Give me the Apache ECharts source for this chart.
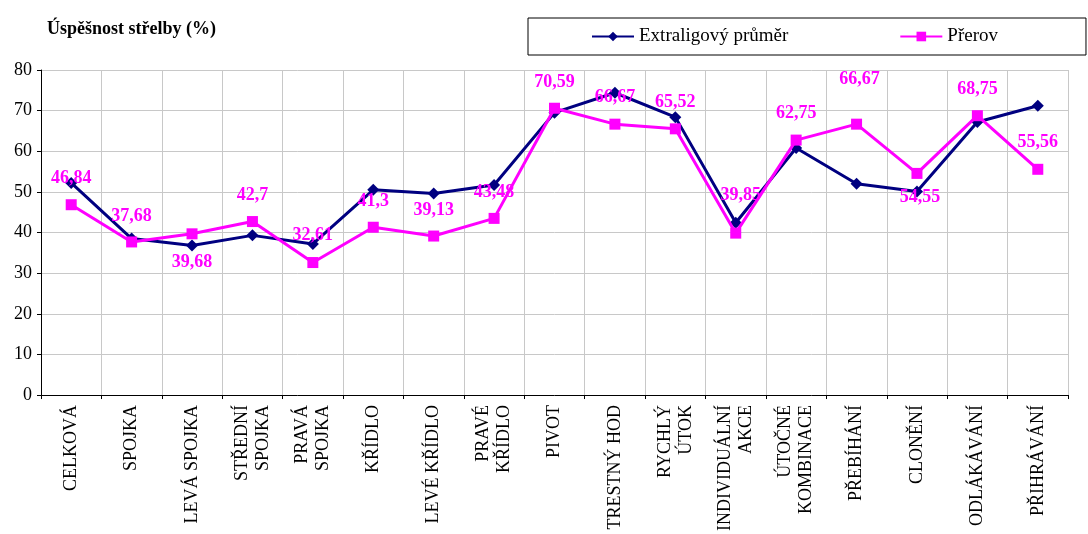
<!DOCTYPE html>
<html>
<head>
<meta charset="utf-8">
<script src="https://cdn.jsdelivr.net/npm/echarts@6/dist/echarts.min.js"></script>
<style>
html,body{margin:0;padding:0;background:#fff;}
#chart{width:1088px;height:534px;}
</style>
</head>
<body>
<div id="chart"></div>
<script>
const categories = ['CELKOVÁ','SPOJKA','LEVÁ SPOJKA','STŘEDNÍ\nSPOJKA','PRAVÁ\nSPOJKA','KŘÍDLO','LEVÉ KŘÍDLO','PRAVÉ\nKŘÍDLO','PIVOT','TRESTNÝ HOD','RYCHLÝ\nÚTOK','INDIVIDUÁLNÍ\nAKCE','ÚTOČNÉ\nKOMBINACE','PŘEBÍHÁNÍ','CLONĚNÍ','ODLÁKÁVÁNÍ','PŘIHRÁVÁNÍ'];
const extraligaName = 'Extraligový průměr';
const extraliga = [52.2, 38.5, 36.8, 39.3, 37.2, 50.5, 49.6, 51.7, 69.5, 74.4, 68.4, 42.4, 60.8, 52.0, 50.1, 67.2, 71.2];
const prerovName = 'Přerov';
const prerov = [46.84, 37.68, 39.68, 42.7, 32.61, 41.3, 39.13, 43.48, 70.59, 66.67, 65.52, 39.85, 62.75, 66.67, 54.55, 68.75, 55.56];
const yTicks = {min: 0, max: 80, interval: 10};
const titleText = 'Úspěšnost střelby (%)';

// label placement (style, not data)
const labelDy = [-26,-26,29,-26,-27,-26,-26,-26,-26,-27,-26,-38,-27,-45,24,-26,-27];
const labelDx = [0,0,0,0,0,0,0,0,0,0,0,5,0,3,3,0,0];

const FONT = '"Liberation Serif", "Times New Roman", serif';
const chart = echarts.init(document.getElementById('chart'));
chart.setOption({
  animation: false,
  backgroundColor: '#fff',
  textStyle: {fontFamily: FONT},
  title: {
    text: titleText, left: 42, top: 15,
    textStyle: {fontFamily: FONT, fontWeight: 'bold', fontSize: 18, color: '#000'}
  },
  legend: {
    left: 528, top: 18,
    padding: [9, 88, 9, 63],
    borderColor: '#000', borderWidth: 1,
    itemGap: 111, itemWidth: 42, itemHeight: 12,
    textStyle: {fontFamily: FONT, fontSize: 19, color: '#000'},
    data: [extraligaName, prerovName]
  },
  grid: {left: 41, right: 20, top: 70, bottom: 138, containLabel: false},
  xAxis: {
    type: 'category', data: categories, boundaryGap: true,
    axisLine: {show: true, lineStyle: {color: '#000', width: 1}},
    axisTick: {show: true, length: 4, lineStyle: {color: '#000'}},
    splitLine: {show: true, lineStyle: {color: '#c8c8c8', width: 1}},
    axisLabel: {rotate: 90, interval: 0, margin: 10, fontFamily: FONT, fontSize: 18, color: '#000', lineHeight: 21}
  },
  yAxis: {
    type: 'value', min: yTicks.min, max: yTicks.max, interval: yTicks.interval,
    axisLine: {show: true, lineStyle: {color: '#000', width: 1}},
    axisTick: {show: true, length: 4, lineStyle: {color: '#000'}},
    splitLine: {show: true, lineStyle: {color: '#c8c8c8', width: 1}},
    axisLabel: {margin: 9, fontFamily: FONT, fontSize: 18, color: '#000'}
  },
  series: [
    {
      name: extraligaName, type: 'line', data: extraliga,
      symbol: 'diamond', symbolSize: 12,
      lineStyle: {color: '#000080', width: 3},
      itemStyle: {color: '#000080'},
      z: 2
    },
    {
      name: prerovName, type: 'line',
      data: prerov.map((v, i) => ({
        value: v,
        label: {offset: [labelDx[i], labelDy[i]]}
      })),
      symbol: 'rect', symbolSize: 11,
      lineStyle: {color: '#ff00ff', width: 3},
      itemStyle: {color: '#ff00ff'},
      label: {
        show: true, position: 'inside',
        fontFamily: FONT, fontWeight: 'bold', fontSize: 18, color: '#ff00ff',
        formatter: p => String(p.value).replace('.', ',')
      },
      z: 3
    }
  ]
});
</script>
</body>
</html>
